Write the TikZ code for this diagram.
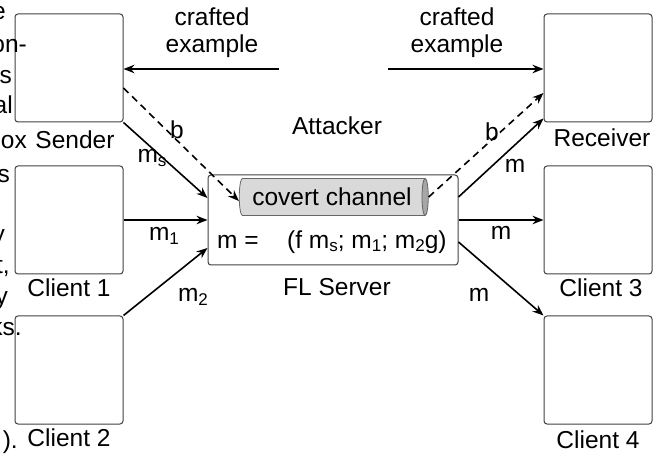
\documentclass[tikz,border=0pt]{standalone}
\usepackage{fontspec}
\setmainfont{Liberation Sans}
\usetikzlibrary{arrows.meta,shapes.geometric}
\newcommand\lowsub[1]{\raisebox{-0.28ex}{\fontsize{17pt}{17pt}\selectfont #1}}
\tikzset{
  box/.style={draw=black!75, line width=1pt, rounded corners=3pt, minimum width=108pt, minimum height=108pt, inner sep=0pt},
  lbl/.style={inner sep=0pt, font=\fontsize{24.5pt}{27pt}\selectfont},
  frag/.style={inner sep=0pt, anchor=base east, font=\fontsize{24.5pt}{27pt}\selectfont},
  arr/.style={line width=1.6pt, -{Stealth[length=11pt,width=8.5pt]}},
  darr/.style={line width=1.6pt, dash pattern=on 7pt off 5pt, -{Stealth[length=11pt,width=8.5pt]}},
}
\begin{document}
\begin{tikzpicture}[x=1pt,y=-1pt]
\useasboundingbox (0,0) rectangle (667,454);
\clip (0,0) rectangle (667,454);
% boxes
\node[box] (sender) at (69,68) {};
\node[box] (client1) at (69,220) {};
\node[box] (client2) at (69,370) {};
\node[box] (receiver) at (598,68) {};
\node[box] (client3) at (598,220) {};
\node[box] (client4) at (598,370) {};
\node[draw=black!75, line width=1pt, rounded corners=3pt, minimum width=250pt, minimum height=90pt, inner sep=0pt] (server) at (333,220) {};
% cylinder
\node[cylinder, shape border rotate=0, aspect=0.35, draw=black!60, line width=0.8pt,
      cylinder uses custom fill, cylinder body fill=black!15, cylinder end fill=black!35,
      minimum height=189pt, minimum width=37pt, inner xsep=0pt, inner ysep=0pt,
      font=\fontsize{24.5pt}{27pt}\selectfont] (cyl) at (332,197) {covert channel\hspace{6pt}};
% formula
\node[lbl, anchor=west] (feq) at (217,242) {m =};
\node[lbl, anchor=west] (fset) at (287,242) {(f m\lowsub{s}; m\lowsub{1}; m\lowsub{2}g)};
% labels
\node[lbl] (lsender) at (75,140) {Sender};
\node[lbl] (lc1) at (69,288) {Client 1};
\node[lbl] (lc2) at (69,438) {Client 2};
\node[lbl] (lrec) at (602,138) {Receiver};
\node[lbl] (lc3) at (601,288) {Client 3};
\node[lbl] (lc4) at (598,440) {Client 4};
\node[lbl] (lserver) at (337,287) {FL Server};
\node[lbl] (attacker) at (337,126) {Attacker};
\node[lbl, align=center] (craftL) at (212,33) {crafted\\example};
\node[lbl, align=center] (craftR) at (457,33) {crafted\\example};
% top arrows
\coordinate (aL) at (279,69);
\coordinate (aR) at (388,69);
\draw[arr] (aL) -- ([yshift=-1pt]sender.east);
\draw[arr] (aR) -- ([yshift=-1pt]receiver.west);
% left arrows
\draw[arr] (sender.south east) -- ([yshift=22pt]server.west);
\draw[darr] ([yshift=-20pt]sender.east) -- ([yshift=-4pt]cyl.west);
\draw[arr] (client1.east) -- (server.west);
\draw[arr] (client2.north east) -- ([yshift=-28pt]server.west);
% right arrows
\draw[arr] ([yshift=23pt]server.east) -- ([yshift=4pt]receiver.south west);
\draw[darr] (cyl.east) -- ([yshift=-25pt]receiver.west);
\draw[arr] (server.east) -- (client3.west);
\draw[arr] ([yshift=-22pt]server.east) -- (client4.north west);
% edge labels
\node[lbl] (lb1) at (177,130) {b};
\node[lbl] (lms) at (152,158) {m\lowsub{s}};
\node[lbl] (lm1) at (164,236) {m\lowsub{1}};
\node[lbl] (lm2) at (193,297) {m\lowsub{2}};
\node[lbl] (lb2) at (492,132) {b};
\node[lbl] (lmr) at (515,166) {m};
\node[lbl] (lm3) at (501,233) {m};
\node[lbl] (lm4) at (479,295) {m};
% fragments of surrounding text
\node[frag] (f1) at (6,20) {e};
\node[frag] (f2) at (27,53) {on-};
\node[frag] (f3) at (12,84) {s};
\node[frag] (f4) at (13,114) {al};
\node[frag] (f5) at (27,149) {ox};
\node[frag] (f6) at (10,183) {s};
\node[frag] (f7) at (5,243) {y};
\node[frag] (f8) at (10,274) {t,};
\node[frag] (f9) at (8,305) {y};
\node[frag] (f10) at (22,336) {ks.};
\node[frag] (f11) at (18,448) {).};
\end{tikzpicture}
\end{document}
